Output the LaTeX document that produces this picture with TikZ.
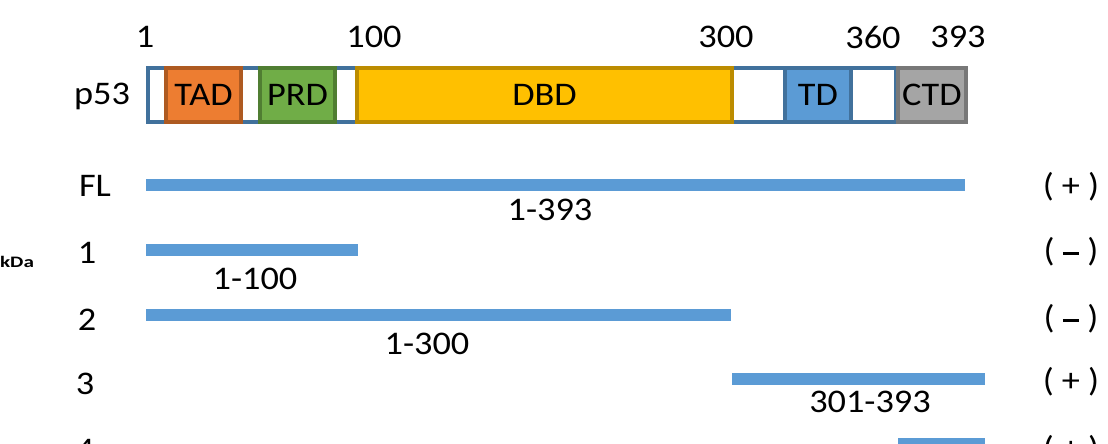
\documentclass[tikz,border=0pt]{standalone}
\usepackage{fontspec}
\setmainfont{Carlito}[FakeStretch=1.1]
\newcommand{\mymin}{\rule[0.22em]{0.5em}{0.075em}}
\begin{document}
\begin{tikzpicture}[x=1pt,y=-1pt,
  lbl/.style={font=\fontsize{33}{33}\selectfont, inner sep=0pt, anchor=center},
  dom/.style={line width=3.5pt, font=\fontsize{33}{33}\selectfont, inner sep=0pt},
  bar/.style={fill=barblue, draw=none},
]
\definecolor{barblue}{HTML}{5B9BD5}
\definecolor{frameblue}{HTML}{41719C}
\definecolor{tadf}{HTML}{ED7D31}\definecolor{tadd}{HTML}{AE5A21}
\definecolor{prdf}{HTML}{70AD47}\definecolor{prdd}{HTML}{507E32}
\definecolor{dbdf}{HTML}{FFC000}\definecolor{dbdd}{HTML}{BC8C00}
\definecolor{tdf}{HTML}{5B9BD5}\definecolor{tdd}{HTML}{41719C}
\definecolor{ctdf}{HTML}{A5A5A5}\definecolor{ctdd}{HTML}{787878}
\useasboundingbox (0,0) rectangle (1108,444);
\clip (0,0) rectangle (1108,444);
% backbone
\draw[frameblue, line width=3.5pt, fill=white] (148,68) rectangle (896,122);
% domains
\draw[dom, draw=tadd, fill=tadf] (166,68) rectangle node (tad) {TAD} (241,122);
\draw[dom, draw=prdd, fill=prdf] (260,68) rectangle node (prd) {PRD} (335,122);
\draw[dom, draw=dbdd, fill=dbdf] (357,68) rectangle node (dbd) {DBD} (732,122);
\draw[dom, draw=tdd, fill=tdf] (785,68) rectangle node (td) {TD} (851,122);
\draw[dom, draw=ctdd, fill=ctdf] (898,68) rectangle node (ctd) {CTD} (966,122);
% position labels
\node[lbl] (n1) at (145,37) {1};
\node[lbl] (n100) at (374,37) {100};
\node[lbl] (n300) at (726,37) {300};
\node[lbl] (n360) at (873,37) {360};
\node[lbl] (n393) at (958,37) {393};
\node[lbl] (p53) at (102,96) {p53};
% rows
\node[lbl] (rFL) at (95,186) {FL};
\fill[bar] (146,179) rectangle (965,191);
\node[lbl] (lFL) at (550,210) {1-393};
\node[lbl] (sFL) at (1071,187) {( + )};

\node[lbl] (r1) at (87,253) {1};
\fill[bar] (146,244) rectangle (358,256);
\node[lbl] (l1) at (255,279) {1-100};
\node[lbl] (s1) at (1071,252) {( \mymin\ )};

\node[lbl] (r2) at (87,320) {2};
\fill[bar] (146,309) rectangle (731,321);
\node[lbl] (l2) at (427,344) {1-300};
\node[lbl] (s2) at (1071,319) {( \mymin\ )};

\node[lbl] (r3) at (85,384) {3};
\fill[bar] (732,373) rectangle (985,385);
\node[lbl] (l3) at (870,402) {301-393};
\node[lbl] (s3) at (1071,382) {( + )};

\node[lbl] (r4) at (85,450) {4};
\fill[bar] (898,438) rectangle (985,450);
\node[lbl] (s4) at (1071,450) {( + )};

\node[font=\bfseries\fontsize{16}{16}\selectfont, inner sep=0pt, xscale=1.2] (kda) at (17,262) {kDa};
\end{tikzpicture}
\end{document}
